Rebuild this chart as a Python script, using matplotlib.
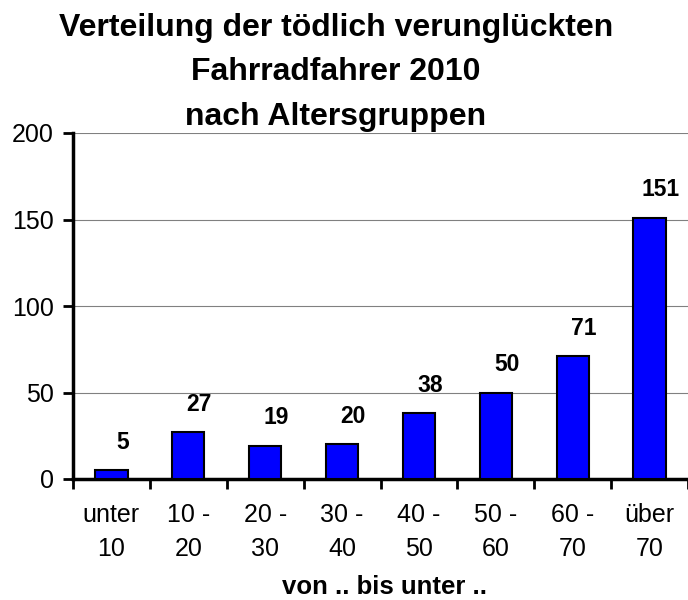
import matplotlib
matplotlib.use("Agg")
from matplotlib import pyplot as plt
import numpy as np

plt.rcParams['font.family'] = ['Liberation Sans', 'DejaVu Sans']

# data
groups = ["unter\n10", "10 -\n20", "20 -\n30", "30 -\n40", "40 -\n50", "50 -\n60", "60 -\n70", "über\n70"]
counts = [5, 27, 19, 20, 38, 50, 71, 151]
title = "Verteilung der tödlich verunglückten\nFahrradfahrer 2010\nnach Altersgruppen"
xlabel = "von .. bis unter .."

fig = plt.figure(figsize=(6.88, 6.0), dpi=100)
ax = fig.add_axes([73 / 688, 1 - 479 / 600, 1 - 73 / 688, (479 - 133) / 600])

x = np.arange(len(counts))
ax.bar(x, counts, width=0.42, color="#0000FF", edgecolor="black", linewidth=1.5, zorder=3)

for xi, v in zip(x, counts):
    ax.annotate(str(v), (xi, v), xytext=(8, 12), textcoords="offset points",
                ha="center", va="bottom", fontsize=16.5, fontweight="bold")

ax.set_xlim(-0.5, len(counts) - 0.5)
ax.set_ylim(0, 200)
ax.set_yticks([0, 50, 100, 150, 200])
ax.yaxis.grid(True, color="#808080", linewidth=0.8, zorder=0)
ax.set_axisbelow(True)

# category boundaries as major ticks, labels on minor ticks
ax.set_xticks(np.arange(len(counts) + 1) - 0.5)
ax.set_xticklabels([])
ax.set_xticks(x, minor=True)
ax.set_xticklabels(groups, minor=True, fontsize=18, linespacing=1.55)
ax.tick_params(axis="x", which="minor", length=0, pad=17)
ax.tick_params(axis="x", which="major", length=7, width=2, direction="out")
ax.tick_params(axis="y", length=7, width=2, labelsize=18, pad=7)

for s in ["top", "right"]:
    ax.spines[s].set_visible(False)
for s in ["left", "bottom"]:
    ax.spines[s].set_linewidth(2.5)

fig.text(336 / 688, 1 - 13 / 600, title, ha="center", va="top", fontsize=23,
         fontweight="bold", linespacing=1.62)
fig.text(385 / 688, 1 - 599 / 600, xlabel, ha="center", va="bottom", fontsize=18.5,
         fontweight="bold")

fig.savefig("out.png", dpi=100)
